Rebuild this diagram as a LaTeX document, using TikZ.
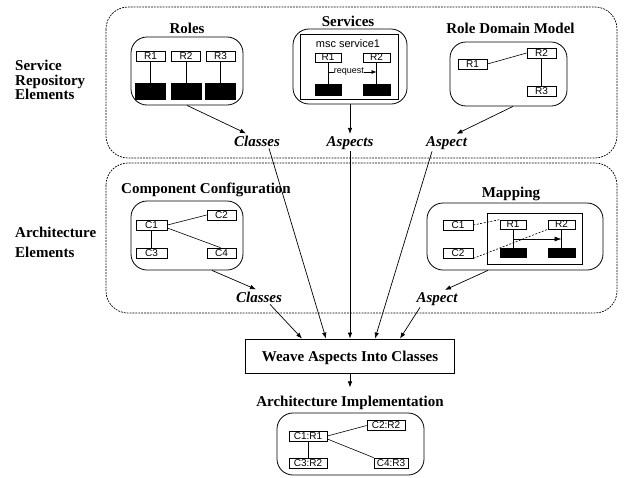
\documentclass[tikz,border=0pt]{standalone}
\usepackage{fontspec}
\setmainfont{Liberation Serif}
\newfontfamily\sansf{Liberation Sans}
\usetikzlibrary{arrows.meta,calc}
\begin{document}
\begin{tikzpicture}[x=1pt,y=-1pt,
  region/.style={draw, dash pattern=on 1.8pt off 1.1pt, line width=0.7pt, rounded corners=22pt},
  rbox/.style={draw, line width=0.8pt, rounded corners=16pt, inner sep=0pt},
  frame/.style={draw, line width=0.8pt, inner sep=0pt},
  sbox/.style={draw, line width=0.7pt, inner sep=0pt, font=\sansf\fontsize{10}{11}\selectfont},
  blk/.style={draw, fill=black, inner sep=0pt},
  head/.style={font=\bfseries\fontsize{15}{17}\selectfont, inner sep=0pt, anchor=base},
  side/.style={head, anchor=base west},
  lbl/.style={font=\bfseries\itshape\fontsize{15}{17}\selectfont, inner sep=2pt, anchor=base},
  arr/.style={-{Latex[length=6pt,width=4.5pt]}, line width=0.7pt},
  msg/.style={-{Latex[length=5pt,width=4pt]}, line width=0.6pt},
  link/.style={line width=0.6pt},
  maplink/.style={line width=0.6pt, dash pattern=on 2pt off 1.5pt},
]
\useasboundingbox (0,0) rectangle (627,477);
\fill[white] (0,0) rectangle (627,477);

% regions
\draw[region] (106,7) rectangle (617,158);
\draw[region] (106,163) rectangle (617,313);

% side labels
\node[side] (s1) at (15,70) {Service};
\node[side] (s2) at (15,85) {Repository};
\node[side] (s3) at (15,99.5) {Elements};
\node[side] (a1) at (15,237) {Architecture};
\node[side] (a2) at (15,257) {Elements};

% Roles
\node[head] (rolesT) at (187,33) {Roles};
\node[rbox, minimum width=112pt, minimum height=68pt] (roles) at (187,71) {};
\node[sbox, minimum width=29pt, minimum height=10pt] (rr1) at (150.5,56) {R1};
\node[sbox, minimum width=29pt, minimum height=10pt] (rr2) at (186,56) {R2};
\node[sbox, minimum width=29pt, minimum height=10pt] (rr3) at (220.5,56) {R3};
\node[blk, minimum width=30pt, minimum height=16pt] (rb1) at (150.5,91) {};
\node[blk, minimum width=30pt, minimum height=16pt] (rb2) at (186,91) {};
\node[blk, minimum width=30pt, minimum height=16pt] (rb3) at (220.5,91) {};
\draw[link] (rr1) -- (rb1);
\draw[link] (rr2) -- (rb2);
\draw[link] (rr3) -- (rb3);

% Services
\node[head] (svcT) at (348,26) {Services};
\node[rbox, minimum width=114pt, minimum height=75pt] (svc) at (350,66.5) {};
\node[frame, minimum width=98pt, minimum height=65pt] (msc) at (349,66.5) {};
\node[font=\sansf\fontsize{11}{12}\selectfont, anchor=base, inner sep=0pt] (mscT) at (348,47) {msc service1};
\node[sbox, minimum width=26pt, minimum height=9pt] (sr1) at (328,57.5) {R1};
\node[sbox, minimum width=27pt, minimum height=9pt] (sr2) at (376.5,57.5) {R2};
\node[blk, minimum width=26pt, minimum height=11pt] (sb1) at (328,89.5) {};
\node[blk, minimum width=27pt, minimum height=11pt] (sb2) at (376.5,89.5) {};
\draw[link] (sr1) -- (sb1);
\draw[link] (sr2) -- (sb2);
\coordinate (rq) at (0,72);
\draw[msg] (sr1.south |- rq) -- (sr2.south |- rq)
  node[pos=0.43, fill=white, inner sep=0.3pt, font=\sansf\fontsize{9}{10}\selectfont] {request};

% Role Domain Model
\node[head] (rdmT) at (510.5,33) {Role Domain Model};
\node[rbox, minimum width=117pt, minimum height=64pt] (rdm) at (508.5,74) {};
\node[sbox, minimum width=29pt, minimum height=10pt] (dr1) at (472.5,64) {R1};
\node[sbox, minimum width=29pt, minimum height=10pt] (dr2) at (541.5,53) {R2};
\node[sbox, minimum width=29pt, minimum height=10pt] (dr3) at (541.5,91) {R3};
\draw[link] (dr1.east) -- (dr2.west);
\draw[link] (dr2) -- (dr3);

% top labels
\node[lbl] (cls1) at (257,146) {Classes};
\node[lbl] (asp1) at (350,146) {Aspects};
\node[lbl] (asp2) at (446.5,146) {Aspect};
\draw[arr] (roles.south) -- ([xshift=-11pt]cls1.north);
\draw[arr] (svc.south) -- (asp1.north);
\draw[arr] ([xshift=4.5pt]rdm.south) -- ([xshift=10pt]asp2.north);

% Component Configuration
\node[head] (ccT) at (206,193) {Component Configuration};
\node[rbox, minimum width=112pt, minimum height=69pt] (cc) at (187,235.5) {};
\node[sbox, minimum width=31pt, minimum height=10pt] (c1) at (151.5,225) {C1};
\node[sbox, minimum width=29pt, minimum height=10pt] (c2) at (221.5,215) {C2};
\node[sbox, minimum width=31pt, minimum height=10pt] (c3) at (151.5,253) {C3};
\node[sbox, minimum width=29pt, minimum height=10pt] (c4) at (221.5,253) {C4};
\draw[link] (c1.east) -- (c2.west);
\draw[link] ([yshift=-3pt]c1.east) -- ([xshift=-1pt]c4.north);
\draw[link] (c1) -- (c3);

% Mapping
\node[head] (mapT) at (511,197) {Mapping};
\node[rbox, minimum width=176pt, minimum height=67pt] (map) at (515,236.5) {};
\node[frame, minimum width=95pt, minimum height=51pt] (mapin) at (534.5,238.5) {};
\node[sbox, minimum width=30pt, minimum height=10pt] (mc1) at (458,225) {C1};
\node[sbox, minimum width=30pt, minimum height=10pt] (mc2) at (458,253) {C2};
\node[sbox, minimum width=26pt, minimum height=9pt] (mr1) at (513,224.5) {R1};
\node[sbox, minimum width=27pt, minimum height=9pt] (mr2) at (561.5,224.5) {R2};
\node[blk, minimum width=26pt, minimum height=9pt] (mb1) at (513,252.5) {};
\node[blk, minimum width=27pt, minimum height=9pt] (mb2) at (561.5,252.5) {};
\draw[link] (mr1) -- (mb1);
\draw[link] (mr2) -- (mb2);
\coordinate (mq) at (0,239);
\draw[-{Latex[length=7pt,width=5pt]}, link] (mr1.south |- mq) -- (mr2.south |- mq);
\draw[maplink] (mc1.east) -- (mr1.north west);
\draw[maplink] (mc2.south east) -- (mr2.south west);

% architecture labels
\node[lbl] (cls2) at (259,302) {Classes};
\node[lbl] (asp3) at (437,302) {Aspect};
\draw[arr] ([xshift=25pt]cc.south) -- ([xshift=-3pt]cls2.north);
\draw[arr] ([xshift=-27pt]map.south) -- ([xshift=8pt]asp3.north);

% Weave
\node[frame, minimum width=209pt, minimum height=34pt, text depth=0pt,
  font=\bfseries\fontsize{15}{17}\selectfont] (weave) at (350,356) {Weave Aspects Into Classes};
\draw[arr] ([xshift=11pt]cls2.south) -- ([xshift=-48pt]weave.north);
\draw[arr] ([xshift=12pt]cls1.south) -- ([xshift=-24pt]weave.north);
\draw[arr] (asp1.south) -- (weave.north);
\draw[arr] ([xshift=-14.5pt]asp2.south) -- ([xshift=25pt]weave.north);
\draw[arr] ([xshift=-17pt]asp3.south) -- ([xshift=50pt]weave.north);

% Implementation
\node[head] (implT) at (350,406) {Architecture Implementation};
\draw[arr] (weave.south) -- ([yshift=8pt]implT.north);
\node[rbox, minimum width=147pt, minimum height=62pt] (impl) at (350.5,444) {};
\node[sbox, minimum width=38pt, minimum height=10pt] (i1) at (308,436) {C1:R1};
\node[sbox, minimum width=38pt, minimum height=10pt] (i2) at (386,425.5) {C2:R2};
\node[sbox, minimum width=38pt, minimum height=10pt] (i3) at (308,463) {C3:R2};
\node[sbox, minimum width=34pt, minimum height=10pt] (i4) at (391,463) {C4:R3};
\draw[link] (i1.east) -- (i2.west);
\draw[link] ([yshift=-3pt]i1.east) -- (i4.north west);
\draw[link] (i1) -- (i3);
\end{tikzpicture}
\end{document}
